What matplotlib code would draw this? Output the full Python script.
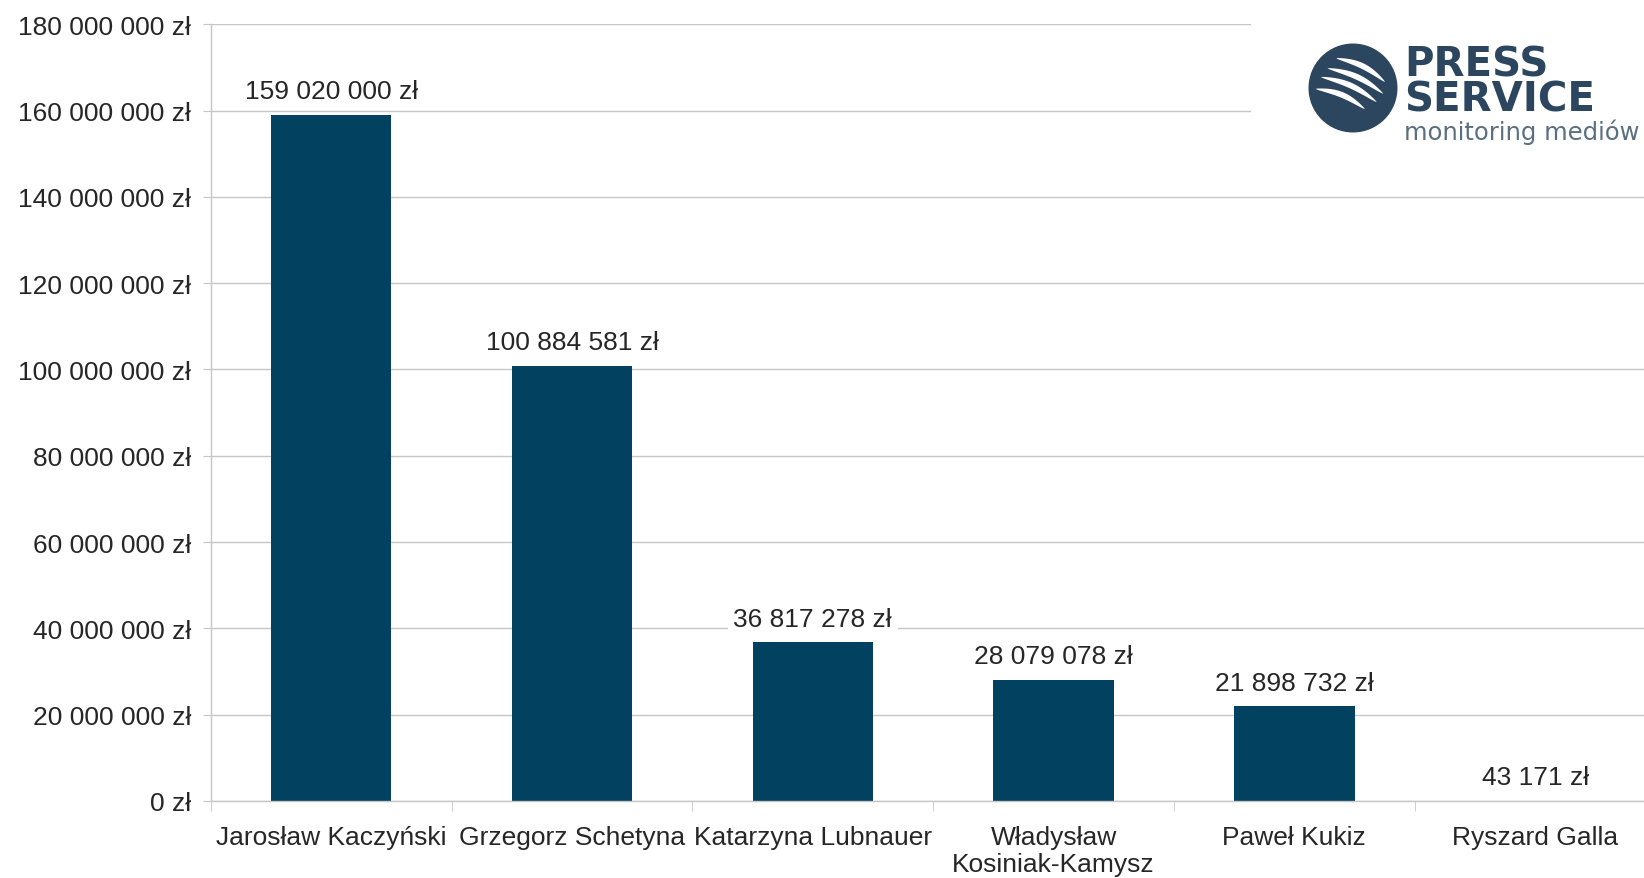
import matplotlib.pyplot as plt
import matplotlib.patches as mpatches
import numpy as np

plt.rcParams['font.family'] = ['Liberation Sans', 'DejaVu Sans']

names = ["Jarosław Kaczyński", "Grzegorz Schetyna", "Katarzyna Lubnauer",
         "Władysław\nKosiniak-Kamysz", "Paweł Kukiz", "Ryszard Galla"]
values = [159020000, 100884581, 36817278, 28079078, 21898732, 43171]
yticks = np.arange(0, 180000001, 20000000)

BAR = '#02415f'
GRID = '#c6c6c6'
TXT = '#262626'


def zl(v):
    return f"{v:,.0f}".replace(',', ' ') + " zł"


fig = plt.figure(figsize=(16.44, 8.79), dpi=100)
ax = fig.add_axes([0.1282, 0.0876, 0.8788, 0.8837])

x = np.arange(len(names))
ax.bar(x, values, 0.5, color=BAR, zorder=2)

ax.set_xlim(-0.5, len(names) - 0.5)
ax.set_ylim(0, 180000000)
ax.set_yticks(yticks, [zl(v) for v in yticks])
ax.set_xticks(x, names)
ax.set_xticks(np.arange(-0.5, len(names), 1), minor=True)

ax.tick_params(axis='y', length=6, color=GRID, pad=8, labelsize=19, labelcolor=TXT)
ax.tick_params(axis='x', which='major', length=0, pad=17, labelsize=19, labelcolor=TXT)
ax.tick_params(axis='x', which='minor', length=7, color=GRID)

ax.grid(axis='y', color=GRID, linewidth=1, zorder=0)
ax.set_axisbelow(True)
for s in ['top', 'right']:
    ax.spines[s].set_visible(False)
for s in ['left', 'bottom']:
    ax.spines[s].set_color(GRID)
    ax.spines[s].set_linewidth(1)

for xi, v in zip(x, values):
    ax.annotate(zl(v), (xi, v), xytext=(0, 17), textcoords='offset points',
                ha='center', va='center', fontsize=19, color=TXT, zorder=3,
                bbox=dict(facecolor='white', edgecolor='none', pad=4))

# logo area (white box over the grid)
fig.patches.append(mpatches.Rectangle((1251 / 1644, 1 - 160 / 879), 1, 160 / 879,
                                      transform=fig.transFigure, facecolor='white',
                                      edgecolor='none', zorder=5))
LOGO = '#2c4660'
lax = fig.add_axes([(1353 - 46) / 1644, 1 - (89 + 46) / 879, 92 / 1644, 92 / 879], zorder=6)
lax.set_xlim(-1.05, 1.05)
lax.set_ylim(-1.05, 1.05)
lax.set_aspect('equal')
lax.axis('off')
circ = mpatches.Circle((0, 0), 1.0, color=LOGO)
lax.add_patch(circ)
ends = [((-0.38, 0.68), (0.73, 0.14)),
        ((-0.58, 0.45), (0.69, -0.13)),
        ((-0.73, 0.25), (0.54, -0.32)),
        ((-0.85, -0.02), (0.27, -0.48))]
t = np.linspace(0, 1, 60)
for p0, p1 in ends:
    p0 = np.array(p0)
    d = np.array(p1) - p0
    nrm = np.array([-d[1], d[0]]) / np.hypot(*d)
    cx = p0[0] + t * d[0] + 0.1 * np.sin(np.pi * t) * nrm[0]
    cy = p0[1] + t * d[1] + 0.1 * np.sin(np.pi * t) * nrm[1]
    w = 0.065 * np.sin(np.pi * t) ** 0.7
    xs = np.concatenate([cx + w * nrm[0], (cx - w * nrm[0])[::-1]])
    ys = np.concatenate([cy + w * nrm[1], (cy - w * nrm[1])[::-1]])
    streak = mpatches.Polygon(np.column_stack([xs, ys]), closed=True,
                              facecolor='white', edgecolor='none')
    streak.set_clip_path(circ)
    lax.add_patch(streak)

fig.text(1404 / 1644, 1 - 83 / 879, "PRESS\nSERVICE", fontsize=29, fontweight='bold',
         color=LOGO, va='center', ha='left', zorder=7, family='DejaVu Sans',
         linespacing=0.82)
fig.text(1404 / 1644, 1 - 132 / 879, "monitoring mediów", fontsize=17.5,
         color='#5a6f80', va='center', ha='left', zorder=7, family='DejaVu Sans')

fig.savefig('out.png', dpi=100)
